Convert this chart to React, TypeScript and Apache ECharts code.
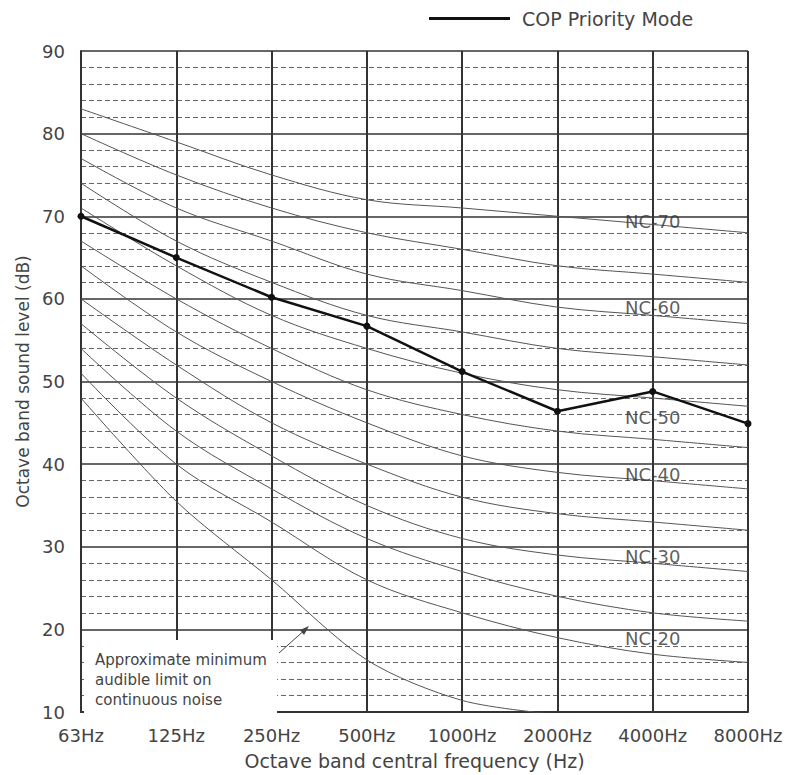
import React, { useEffect, useRef } from "react";
import * as echarts from "echarts";

const categories = ["63Hz", "125Hz", "250Hz", "500Hz", "1000Hz", "2000Hz", "4000Hz", "8000Hz"];
const copPriority = [70, 65, 60.2, 56.7, 51.2, 46.4, 48.8, 44.9];

const nc70 = [83, 79, 75, 72, 71, 70, 69, 68];
const nc65 = [80, 75, 71, 68, 66, 64, 63, 62];
const nc60 = [77, 71, 67, 63, 61, 59, 58, 57];
const nc55 = [74, 67, 62, 58, 56, 54, 53, 52];
const nc50 = [71, 64, 58, 54, 51, 49, 48, 47];
const nc45 = [67, 60, 54, 49, 46, 44, 43, 42];
const nc40 = [64, 56, 50, 45, 41, 39, 38, 37];
const nc35 = [60, 52, 45, 40, 36, 34, 33, 32];
const nc30 = [57, 48, 41, 35, 31, 29, 28, 27];
const nc25 = [54, 44, 37, 31, 27, 24, 22, 21];
const nc20 = [51, 40, 33, 26, 22, 19, 17, 16];
const audibleLimit = [48, 35.5, 26, 16.3, 11.4, 9.7, null, null];

const ncCurves = [nc70, nc65, nc60, nc55, nc50, nc45, nc40, nc35, nc30, nc25, nc20];

const ncLabelNames = ["NC-70", "NC-60", "NC-50", "NC-40", "NC-30", "NC-20"];
const ncLabelLevels = [69.4, 59.0, 45.6, 38.8, 28.8, 18.9];
const ncLabelCategory = "4000Hz";

const yTicks = { min: 10, max: 90, interval: 10 };

const FONT = "DejaVu Sans";

export default function App() {
  const ref = useRef<HTMLDivElement>(null);

  useEffect(() => {
    if (!ref.current) return;
    const chart = echarts.init(ref.current, null, { renderer: "svg" });

    const ncSeries = ncCurves.map((d, i) => ({
      name: "nc" + i,
      type: "line",
      data: d,
      smooth: 0.35,
      symbol: "none",
      silent: true,
      lineStyle: { color: "#555", width: 1 },
      z: 3,
    }));

    const option: any = {
      animation: false,
      textStyle: { fontFamily: FONT },
      grid: { left: 81, right: 39, top: 51, bottom: 56 },
      legend: {
        data: ["COP Priority Mode"],
        left: 424,
        top: 4,
        icon: "rect",
        itemWidth: 81,
        itemHeight: 3,
        selectedMode: false,
        textStyle: { fontSize: 19, color: "#444", fontFamily: FONT, padding: [0, 0, 0, 7] },
      },
      xAxis: {
        type: "category",
        data: categories,
        boundaryGap: false,
        name: "Octave band central frequency (Hz)",
        nameLocation: "middle",
        nameGap: 39,
        nameTextStyle: { fontSize: 19, color: "#444", fontFamily: FONT },
        axisLine: { lineStyle: { color: "#333", width: 2 } },
        axisTick: { show: false },
        axisLabel: { margin: 14, fontSize: 18, color: "#444", fontFamily: FONT },
        splitLine: { show: true, lineStyle: { color: "#333", width: 2 } },
      },
      yAxis: {
        type: "value",
        min: yTicks.min,
        max: yTicks.max,
        interval: yTicks.interval,
        name: "Octave band sound level (dB)",
        nameLocation: "middle",
        nameGap: 48,
        nameTextStyle: { fontSize: 17, color: "#444", fontFamily: FONT },
        axisLine: { show: true, lineStyle: { color: "#333", width: 2 } },
        axisTick: { show: false },
        axisLabel: { margin: 16, fontSize: 18, color: "#444", fontFamily: FONT },
        splitLine: { show: true, lineStyle: { color: "#333", width: 1.5 } },
        minorTick: { show: false, splitNumber: 5 },
        minorSplitLine: { show: true, lineStyle: { color: "#666", width: 1, type: [5, 3] } },
      },
      series: [
        ...ncSeries,
        {
          name: "audible",
          type: "line",
          data: audibleLimit,
          smooth: 0.3,
          symbol: "none",
          silent: true,
          lineStyle: { color: "#555", width: 1 },
          z: 3,
        },
        {
          name: "ncLabels",
          type: "scatter",
          data: ncLabelNames.map((n, i) => ({ name: n, value: [ncLabelCategory, ncLabelLevels[i]] })),
          symbolSize: 1,
          itemStyle: { color: "rgba(0,0,0,0)" },
          silent: true,
          label: {
            show: true,
            position: "inside",
            formatter: (p: any) => p.name,
            fontSize: 18,
            color: "#333",
            fontFamily: FONT,
          },
          z: 6,
        },
        {
          name: "COP Priority Mode",
          type: "line",
          data: copPriority,
          symbol: "circle",
          symbolSize: 7,
          itemStyle: { color: "#111" },
          lineStyle: { color: "#111", width: 2.5 },
          z: 10,
        },
      ],
      graphic: [
        {
          type: "rect",
          shape: { x: 84, y: 640, width: 193, height: 75 },
          style: { fill: "#fff" },
          z: 100,
        },
        {
          type: "text",
          x: 95,
          y: 650,
          z: 101,
          style: {
            text: "Approximate minimum\naudible limit on\ncontinuous noise",
            fontSize: 15,
            lineHeight: 20,
            fill: "#444",
            fontFamily: FONT,
            verticalAlign: "top",
          },
        },
        {
          type: "line",
          shape: { x1: 279, y1: 653, x2: 307, y2: 628 },
          style: { stroke: "#444", lineWidth: 1 },
          z: 101,
        },
        {
          type: "polygon",
          shape: { points: [[309, 626], [300, 630], [304, 635]] },
          style: { fill: "#444" },
          z: 101,
        },
      ],
    };

    chart.setOption(option);
    return () => chart.dispose();
  }, []);

  return (
    <div
      ref={ref}
      style={{ position: "absolute", left: 0, top: 0, width: 787, height: 775 }}
    />
  );
}
